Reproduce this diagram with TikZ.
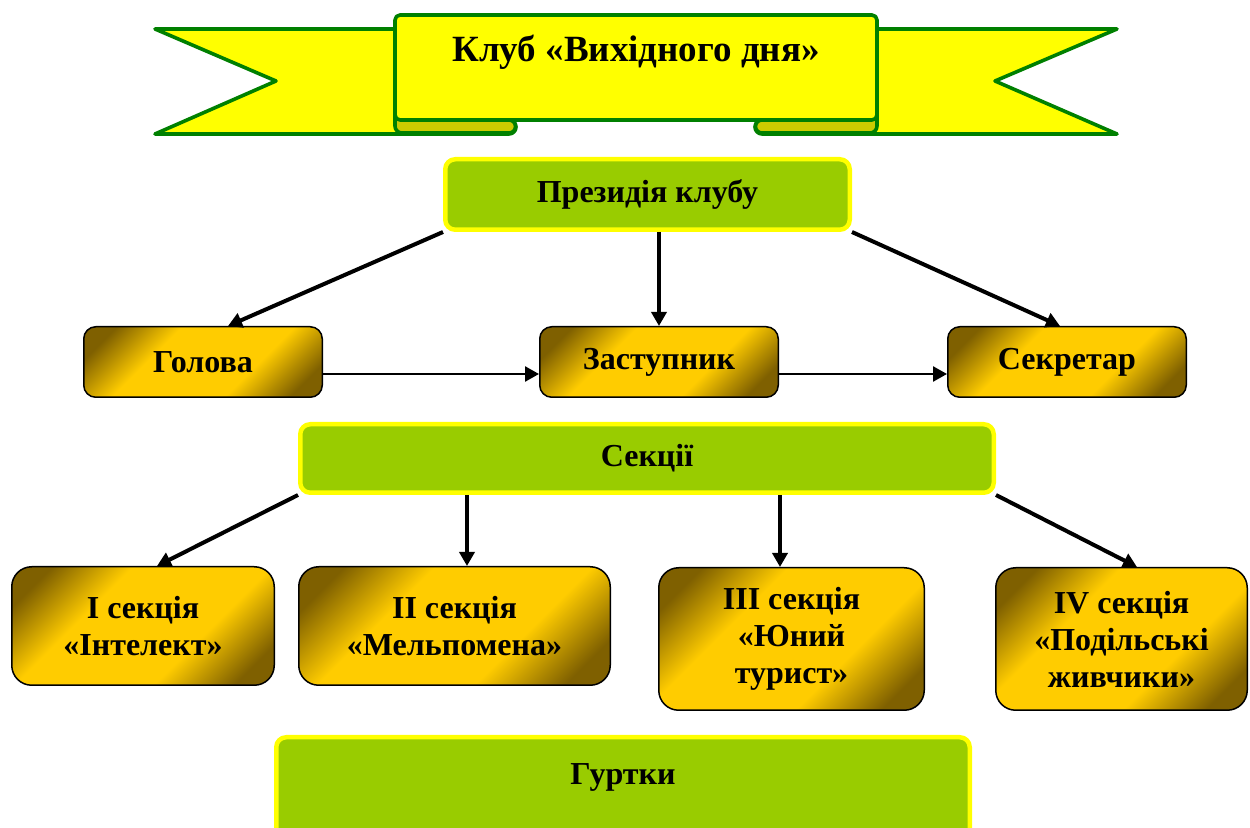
\documentclass[tikz,border=0pt]{standalone}
\usepackage{fontspec}
\setmainfont{Liberation Serif}
\usetikzlibrary{arrows.meta}
\definecolor{ribgreen}{HTML}{008000}
\definecolor{ribyellow}{HTML}{FFFF00}
\definecolor{curlyellow}{HTML}{CCCC00}
\definecolor{boxgreen}{HTML}{99CC00}
\definecolor{gold}{HTML}{FFCC00}
\definecolor{golddark}{HTML}{7F6000}
\pgfdeclareverticalshading{goldsh}{100bp}{color(0bp)=(golddark); color(22bp)=(golddark); color(37bp)=(gold); color(63bp)=(gold); color(78bp)=(golddark); color(100bp)=(golddark)}
\tikzset{
  boxfont/.style={font=\bfseries\fontsize{16}{18.5}\selectfont},
  greenbox/.style={boxfont, draw=ribyellow, line width=2.25pt, fill=boxgreen, rounded corners=5pt, align=center, inner sep=0pt},
  goldbox/.style={boxfont, draw=black, line width=0.75pt, shade, shading=goldsh, shading angle=45, rounded corners=6pt, align=center, inner sep=0pt},
  secbox/.style={goldbox, rounded corners=10pt},
  arr/.style={line width=2pt, -{Triangle[length=7pt,width=7.5pt]}},
  harr/.style={line width=1.25pt, -{Triangle[length=7pt,width=7.5pt]}},
  ribbon/.style={draw=ribgreen, line width=1.8pt, fill=ribyellow, line join=round},
  curl/.style={ribbon, fill=curlyellow},
}
\begin{document}
\begin{tikzpicture}[x=0.5pt,y=-0.5pt]
\useasboundingbox (0,0) rectangle (1250,828);
\clip (0,0) rectangle (1250,828);

% ribbon banner
\draw[ribbon] (155,29) -- (276,81) -- (155,134) -- (509,134) arc[start angle=90,end angle=-90,radius=7] -- (400,120) -- (400,29) -- cycle;
\draw[ribbon] (1117,29) -- (995,81) -- (1117,134) -- (762,134) arc[start angle=90,end angle=270,radius=7] -- (870,120) -- (870,29) -- cycle;
\draw[curl] (395,100) -- (395,126) arc[start angle=180,end angle=90,radius=7] -- (509,133) arc[start angle=90,end angle=-90,radius=6.5] -- (509,100) -- cycle;
\draw[curl] (877,100) -- (877,126) arc[start angle=0,end angle=90,radius=7] -- (762,133) arc[start angle=90,end angle=270,radius=6.5] -- (762,100) -- cycle;
\draw[ribbon, rounded corners=2.5pt] (395,120) -- (395,15) -- (877,15) -- (877,120) -- cycle;
\node[anchor=base, font=\bfseries\fontsize{18.5}{22}\selectfont] (title) at (636,62) {Клуб «Вихідного дня»};

% presidium level
\node[greenbox, minimum width=202.25pt, minimum height=35.25pt] (pres) at (647.5,194.5) {Президія клубу};
\node[goldbox, minimum width=119.25pt, minimum height=35.25pt] (golova) at (203,362) {Голова};
\node[goldbox, minimum width=119.25pt, minimum height=35.25pt] (zast) at (659,362) {Заступник};
\node[goldbox, minimum width=119.25pt, minimum height=35.25pt] (sekr) at (1067,362) {Секретар};

\draw[arr] (pres.south west) -- ([xshift=12.5pt]golova.north);
\draw[arr] (zast.north |- pres.south) -- (zast.north);
\draw[arr] (pres.south east) -- ([xshift=-3.5pt]sekr.north);
\draw[harr] ([yshift=-6pt]golova.east) -- ([yshift=-6pt]zast.west);
\draw[harr] ([yshift=-6pt]zast.east) -- ([yshift=-6pt]sekr.west);

% sections
\node[greenbox, minimum width=346.75pt, minimum height=34.25pt] (sekcii) at (647,458.5) {Секції};
\node[secbox, minimum width=131.25pt, minimum height=59.25pt] (s1) at (143,626) {I секція\\«Інтелект»};
\node[secbox, minimum width=155.75pt, minimum height=59.25pt] (s2) at (454.5,626) {II секція\\«Мельпомена»};
\node[secbox, minimum width=132.75pt, minimum height=71.25pt] (s3) at (791.5,639) {III секція\\«Юний\\турист»};
\node[secbox, minimum width=125.75pt, minimum height=71.25pt] (s4) at (1121.5,639) {IV секція\\«Подільські\\живчики»};

\coordinate (s2t) at ([xshift=6.25pt]s2.north);
\coordinate (s3t) at ([xshift=-5.75pt]s3.north);
\draw[arr] (sekcii.south west) -- ([xshift=7pt]s1.north);
\draw[arr] (s2t |- sekcii.south) -- (s2t);
\draw[arr] (s3t |- sekcii.south) -- (s3t);
\draw[arr] (sekcii.south east) -- ([xshift=7.75pt]s4.north);

% circles
\node[greenbox, anchor=north, minimum width=346.75pt, text height=23.5pt, text depth=50pt] (gurtky) at (623,735) {Гуртки};
\end{tikzpicture}
\end{document}
